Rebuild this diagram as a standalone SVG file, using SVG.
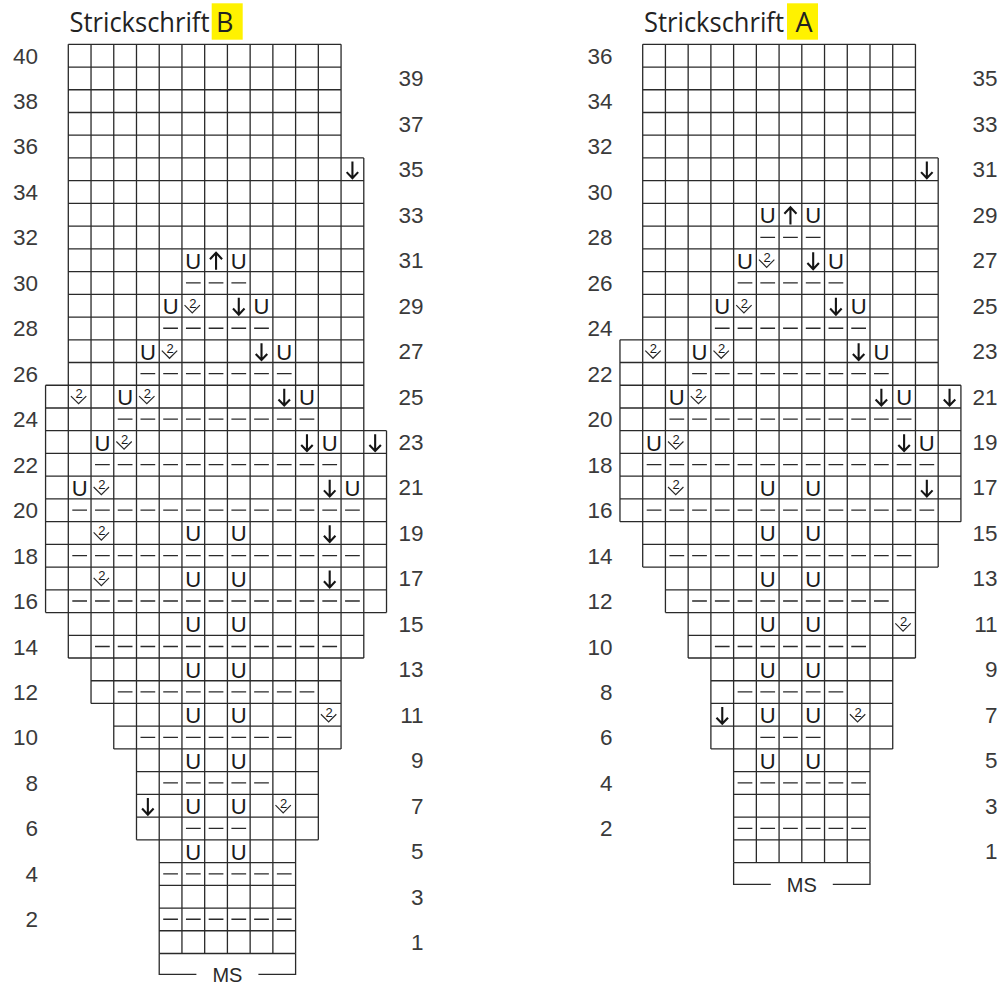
<svg xmlns="http://www.w3.org/2000/svg" xmlns:xlink="http://www.w3.org/1999/xlink" width="998" height="985" viewBox="0 0 998 985">
<style>
.g{fill:none;stroke:#2a2a2a;stroke-width:1.3}
.d{fill:none;stroke:#2a2a2a;stroke-width:1.3;stroke-dasharray:14.73 8}
.ar{fill:none;stroke:#151515;stroke-width:2.1}
.cv{fill:none;stroke:#2a2a2a;stroke-width:1.2}
.u{font-family:"Liberation Sans",Arial,sans-serif;font-size:22px;text-anchor:middle;fill:#1a1a1a}
.two{font-family:"Liberation Sans",Arial,sans-serif;font-size:13px;text-anchor:middle;fill:#1a1a1a}
.num{font-family:"Liberation Sans",Arial,sans-serif;font-size:22.5px;fill:#3a3a3a;text-anchor:end}
.ms{font-family:"Liberation Sans",Arial,sans-serif;font-size:20px;fill:#2a2a2a;text-anchor:middle}
.ttl{font-family:"Open Sans","Liberation Sans",sans-serif;font-size:27px;fill:#222}
</style>
<defs>
<path id="dn" d="M11.37 3.5V20.3M5.6 14.2L11.37 20.3L17.1 14.2"/>
<path id="up" d="M11.37 21V3.8M5.3 10.3L11.37 3.8L17.4 10.3"/>
<path id="cv" d="M2.6 10.8L10.3 18.5L18 10.8"/>
</defs>

<g id="titleB">
<rect x="211.7" y="3.3" width="31" height="36.4" fill="#fff200"/>
<text class="ttl" x="69.5" y="32" textLength="140" lengthAdjust="spacingAndGlyphs">Strickschrift</text>
<text class="ttl" x="216" y="32">B</text>
</g>
<g id="titleA">
<rect x="787" y="3.3" width="31" height="36.4" fill="#fff200"/>
<text class="ttl" x="644" y="32" textLength="140" lengthAdjust="spacingAndGlyphs">Strickschrift</text>
<text class="ttl" x="795.5" y="32">A</text>
</g>

<g id="chartB" transform="translate(68.3,44.3)">
<path class="g" d="M0 0H272.76M0 22.73H272.76M0 45.46H272.76M0 68.19H272.76M0 90.92H272.76
M0 113.65H295.49M0 136.38H295.49M0 159.11H295.49M0 181.84H295.49M0 204.57H295.49M0 227.3H295.49M0 250.03H295.49M0 272.76H295.49M0 295.49H295.49M0 318.22H295.49
M-22.73 340.95H295.49M-22.73 363.68H295.49
M-22.73 386.41H318.22M-22.73 409.14H318.22M-22.73 431.87H318.22M-22.73 454.6H318.22M-22.73 477.33H318.22M-22.73 500.06H318.22M-22.73 522.79H318.22M-22.73 545.52H318.22M-22.73 568.25H318.22
M0 590.98H295.49M0 613.71H295.49
M22.73 636.44H272.76M22.73 659.17H272.76
M45.46 681.9H272.76M45.46 704.63H272.76
M68.19 727.36H250.03M68.19 750.09H250.03M68.19 772.82H250.03M68.19 795.55H250.03
M90.92 818.28H227.3M90.92 841.01H227.3M90.92 863.74H227.3M90.92 886.47H227.3M90.92 909.2H227.3
M-22.73 340.95V568.25M0 0V613.71M22.73 0V659.17M45.46 0V704.63M68.19 0V795.55
M90.92 0V909.2M113.65 0V909.2M136.38 0V909.2M159.11 0V909.2M181.84 0V909.2M204.57 0V909.2M227.3 0V909.2
M250.03 0V795.55M272.76 0V704.63M295.49 113.65V613.71M318.22 386.41V568.25"/>
<path class="d" d="M117.65 238.5H177.84M94.92 283.96H200.57M72.19 329.42H223.3M49.46 374.88H246.03M26.73 420.34H268.76M4 465.8H291.49M4 511.26H291.49M4 556.72H291.49M26.73 602.18H268.76M49.46 647.64H246.03M72.19 693.1H223.3M94.92 738.56H200.57M117.65 784.02H177.84M94.92 829.48H223.3M94.92 874.94H223.3"/>
<g class="ar">
<use xlink:href="#dn" x="272.76" y="113.65"/>
<use xlink:href="#up" x="136.38" y="204.57"/>
<use xlink:href="#dn" x="159.11" y="250.03"/>
<use xlink:href="#dn" x="181.84" y="295.49"/>
<use xlink:href="#dn" x="204.57" y="340.95"/>
<use xlink:href="#dn" x="227.3" y="386.41"/>
<use xlink:href="#dn" x="295.49" y="386.41"/>
<use xlink:href="#dn" x="250.03" y="431.87"/>
<use xlink:href="#dn" x="250.03" y="477.33"/>
<use xlink:href="#dn" x="250.03" y="522.79"/>
<use xlink:href="#dn" x="68.19" y="750.09"/>
</g>
<g class="cv">
<use xlink:href="#cv" x="113.65" y="250.03"/>
<use xlink:href="#cv" x="90.92" y="295.49"/>
<use xlink:href="#cv" x="0" y="340.95"/>
<use xlink:href="#cv" x="68.19" y="340.95"/>
<use xlink:href="#cv" x="45.46" y="386.41"/>
<use xlink:href="#cv" x="22.73" y="431.87"/>
<use xlink:href="#cv" x="22.73" y="477.33"/>
<use xlink:href="#cv" x="22.73" y="522.79"/>
<use xlink:href="#cv" x="250.03" y="659.17"/>
<use xlink:href="#cv" x="204.57" y="750.09"/>
</g>
<g class="two">
<text x="124.45" y="263.23">2</text>
<text x="101.72" y="308.69">2</text>
<text x="10.8" y="354.15">2</text>
<text x="78.99" y="354.15">2</text>
<text x="56.26" y="399.61">2</text>
<text x="33.53" y="445.07">2</text>
<text x="33.53" y="490.53">2</text>
<text x="33.53" y="535.99">2</text>
<text x="260.83" y="672.37">2</text>
<text x="215.37" y="763.29">2</text>
</g>
<g class="u">
<text x="125.02" y="224.37">U</text><text x="170.48" y="224.37">U</text>
<text x="102.29" y="269.83">U</text><text x="193.21" y="269.83">U</text>
<text x="79.56" y="315.29">U</text><text x="215.94" y="315.29">U</text>
<text x="56.83" y="360.75">U</text><text x="238.67" y="360.75">U</text>
<text x="34.1" y="406.21">U</text><text x="261.4" y="406.21">U</text>
<text x="11.37" y="451.67">U</text><text x="284.13" y="451.67">U</text>
<text x="125.02" y="497.13">U</text><text x="170.48" y="497.13">U</text>
<text x="125.02" y="542.59">U</text><text x="170.48" y="542.59">U</text>
<text x="125.02" y="588.05">U</text><text x="170.48" y="588.05">U</text>
<text x="125.02" y="633.51">U</text><text x="170.48" y="633.51">U</text>
<text x="125.02" y="678.97">U</text><text x="170.48" y="678.97">U</text>
<text x="125.02" y="724.43">U</text><text x="170.48" y="724.43">U</text>
<text x="125.02" y="769.89">U</text><text x="170.48" y="769.89">U</text>
<text x="125.02" y="815.35">U</text><text x="170.48" y="815.35">U</text>
</g>
</g>

<g id="msB">
<path class="g" d="M159.22 953.5V974.3H196.4M258.4 974.3H295.6V953.5"/>
<text class="ms" x="227.4" y="982.3">MS</text>
</g>

<g id="chartA" transform="translate(642.7,44.3)">
<path class="g" d="M0 0H272.76M0 22.73H272.76M0 45.46H272.76M0 68.19H272.76M0 90.92H272.76
M0 113.65H295.49M0 136.38H295.49M0 159.11H295.49M0 181.84H295.49M0 204.57H295.49M0 227.3H295.49M0 250.03H295.49M0 272.76H295.49
M-22.73 295.49H295.49M-22.73 318.22H295.49
M-22.73 340.95H318.22M-22.73 363.68H318.22M-22.73 386.41H318.22M-22.73 409.14H318.22M-22.73 431.87H318.22M-22.73 454.6H318.22M-22.73 477.33H318.22
M0 500.06H295.49M0 522.79H295.49
M22.73 545.52H272.76M22.73 568.25H272.76
M45.46 590.98H272.76M45.46 613.71H272.76
M68.19 636.44H250.03M68.19 659.17H250.03M68.19 681.9H250.03M68.19 704.63H250.03
M90.92 727.36H227.3M90.92 750.09H227.3M90.92 772.82H227.3M90.92 795.55H227.3M90.92 818.28H227.3
M-22.73 295.49V477.33M0 0V522.79M22.73 0V568.25M45.46 0V613.71M68.19 0V704.63
M90.92 0V818.28M113.65 0V818.28M136.38 0V818.28M159.11 0V818.28M181.84 0V818.28M204.57 0V818.28M227.3 0V818.28
M250.03 0V704.63M272.76 0V613.71M295.49 113.65V522.79M318.22 340.95V477.33"/>
<path class="d" d="M117.65 193.04H177.84M94.92 238.5H200.57M72.19 283.96H223.3M49.46 329.42H246.03M26.73 374.88H268.76M4 420.34H291.49M4 465.8H291.49M26.73 511.26H268.76M49.46 556.72H246.03M72.19 602.18H223.3M94.92 647.64H200.57M117.65 693.1H177.84M94.92 738.56H223.3M94.92 784.02H223.3"/>
<g class="ar">
<use xlink:href="#dn" x="272.76" y="113.65"/>
<use xlink:href="#up" x="136.38" y="159.11"/>
<use xlink:href="#dn" x="159.11" y="204.57"/>
<use xlink:href="#dn" x="181.84" y="250.03"/>
<use xlink:href="#dn" x="204.57" y="295.49"/>
<use xlink:href="#dn" x="227.3" y="340.95"/>
<use xlink:href="#dn" x="295.49" y="340.95"/>
<use xlink:href="#dn" x="250.03" y="386.41"/>
<use xlink:href="#dn" x="272.76" y="431.87"/>
<use xlink:href="#dn" x="68.19" y="659.17"/>
</g>
<g class="cv">
<use xlink:href="#cv" x="113.65" y="204.57"/>
<use xlink:href="#cv" x="90.92" y="250.03"/>
<use xlink:href="#cv" x="0" y="295.49"/>
<use xlink:href="#cv" x="68.19" y="295.49"/>
<use xlink:href="#cv" x="45.46" y="340.95"/>
<use xlink:href="#cv" x="22.73" y="386.41"/>
<use xlink:href="#cv" x="22.73" y="431.87"/>
<use xlink:href="#cv" x="250.03" y="568.25"/>
<use xlink:href="#cv" x="204.57" y="659.17"/>
</g>
<g class="two">
<text x="124.45" y="217.77">2</text>
<text x="101.72" y="263.23">2</text>
<text x="10.8" y="308.69">2</text>
<text x="78.99" y="308.69">2</text>
<text x="56.26" y="354.15">2</text>
<text x="33.53" y="399.61">2</text>
<text x="33.53" y="445.07">2</text>
<text x="260.83" y="581.45">2</text>
<text x="215.37" y="672.37">2</text>
</g>
<g class="u">
<text x="125.02" y="178.91">U</text><text x="170.48" y="178.91">U</text>
<text x="102.29" y="224.37">U</text><text x="193.21" y="224.37">U</text>
<text x="79.56" y="269.83">U</text><text x="215.94" y="269.83">U</text>
<text x="56.83" y="315.29">U</text><text x="238.67" y="315.29">U</text>
<text x="34.1" y="360.75">U</text><text x="261.4" y="360.75">U</text>
<text x="11.37" y="406.21">U</text><text x="284.13" y="406.21">U</text>
<text x="125.02" y="451.67">U</text><text x="170.48" y="451.67">U</text>
<text x="125.02" y="497.13">U</text><text x="170.48" y="497.13">U</text>
<text x="125.02" y="542.59">U</text><text x="170.48" y="542.59">U</text>
<text x="125.02" y="588.05">U</text><text x="170.48" y="588.05">U</text>
<text x="125.02" y="633.51">U</text><text x="170.48" y="633.51">U</text>
<text x="125.02" y="678.97">U</text><text x="170.48" y="678.97">U</text>
<text x="125.02" y="724.43">U</text><text x="170.48" y="724.43">U</text>
</g>
</g>

<g id="msA">
<path class="g" d="M733.62 862.6V884.3H770.8M832.8 884.3H870V862.6"/>
<text class="ms" x="801.8" y="891.7">MS</text>
</g>

<g id="labelsB" class="num">
<text x="38" y="63.57">40</text><text x="38" y="109.03">38</text><text x="38" y="154.49">36</text><text x="38" y="199.95">34</text><text x="38" y="245.41">32</text>
<text x="38" y="290.87">30</text><text x="38" y="336.33">28</text><text x="38" y="381.79">26</text><text x="38" y="427.25">24</text><text x="38" y="472.71">22</text>
<text x="38" y="518.17">20</text><text x="38" y="563.63">18</text><text x="38" y="609.09">16</text><text x="38" y="654.55">14</text><text x="38" y="700.01">12</text>
<text x="38" y="745.47">10</text><text x="38" y="790.93">8</text><text x="38" y="836.39">6</text><text x="38" y="881.85">4</text><text x="38" y="927.31">2</text>
<text x="423.5" y="86.3">39</text><text x="423.5" y="131.76">37</text><text x="423.5" y="177.22">35</text><text x="423.5" y="222.68">33</text><text x="423.5" y="268.14">31</text>
<text x="423.5" y="313.6">29</text><text x="423.5" y="359.06">27</text><text x="423.5" y="404.52">25</text><text x="423.5" y="449.98">23</text><text x="423.5" y="495.44">21</text>
<text x="423.5" y="540.9">19</text><text x="423.5" y="586.36">17</text><text x="423.5" y="631.82">15</text><text x="423.5" y="677.28">13</text><text x="423.5" y="722.74">11</text>
<text x="423.5" y="768.2">9</text><text x="423.5" y="813.66">7</text><text x="423.5" y="859.12">5</text><text x="423.5" y="904.58">3</text><text x="423.5" y="950.04">1</text>
</g>
<g id="labelsA" class="num">
<text x="612.5" y="63.57">36</text><text x="612.5" y="109.03">34</text><text x="612.5" y="154.49">32</text><text x="612.5" y="199.95">30</text><text x="612.5" y="245.41">28</text>
<text x="612.5" y="290.87">26</text><text x="612.5" y="336.33">24</text><text x="612.5" y="381.79">22</text><text x="612.5" y="427.25">20</text><text x="612.5" y="472.71">18</text>
<text x="612.5" y="518.17">16</text><text x="612.5" y="563.63">14</text><text x="612.5" y="609.09">12</text><text x="612.5" y="654.55">10</text><text x="612.5" y="700.01">8</text>
<text x="612.5" y="745.47">6</text><text x="612.5" y="790.93">4</text><text x="612.5" y="836.39">2</text>
<text x="997.5" y="86.3">35</text><text x="997.5" y="131.76">33</text><text x="997.5" y="177.22">31</text><text x="997.5" y="222.68">29</text><text x="997.5" y="268.14">27</text>
<text x="997.5" y="313.6">25</text><text x="997.5" y="359.06">23</text><text x="997.5" y="404.52">21</text><text x="997.5" y="449.98">19</text><text x="997.5" y="495.44">17</text>
<text x="997.5" y="540.9">15</text><text x="997.5" y="586.36">13</text><text x="997.5" y="631.82">11</text><text x="997.5" y="677.28">9</text><text x="997.5" y="722.74">7</text>
<text x="997.5" y="768.2">5</text><text x="997.5" y="813.66">3</text><text x="997.5" y="859.12">1</text>
</g>
</svg>
